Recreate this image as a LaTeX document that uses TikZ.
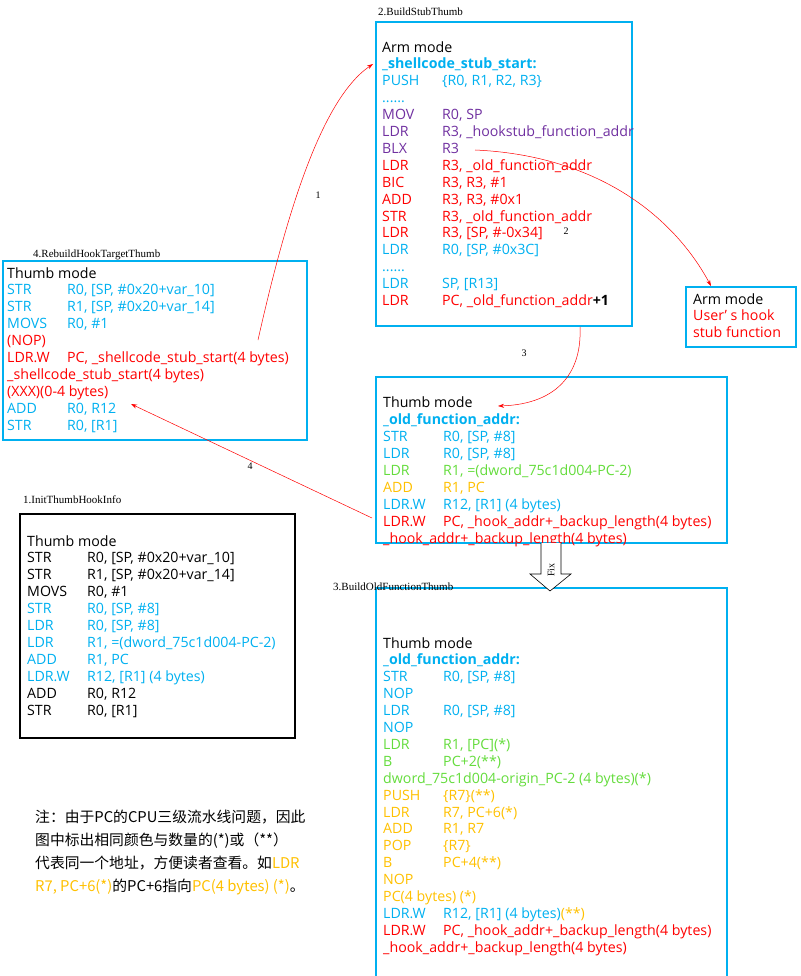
\documentclass[tikz,border=0pt]{standalone}
\usepackage{fontspec}
\setmainfont{Open Sans}
\newfontfamily\cjk{Noto Sans CJK SC}
\newfontfamily\lab{Liberation Serif}
\usetikzlibrary{arrows.meta}
\definecolor{cy}{RGB}{0,176,240}
\definecolor{pu}{RGB}{112,48,160}
\definecolor{rd}{RGB}{255,0,0}
\definecolor{gr}{RGB}{100,220,60}
\definecolor{og}{RGB}{255,192,0}
\newcommand\ci[2]{\makebox[60pt][l]{#1}#2}
\begin{document}
\begin{tikzpicture}[x=1pt,y=-1pt,
  bx/.style={draw=cy,line width=2.5pt},
  bk/.style={draw=black,line width=2pt},
  code/.style={anchor=base west,inner sep=0pt,align=left,font=\fontsize{14.2}{16.9}\selectfont},
  lbl/.style={anchor=base west,inner sep=0pt,font=\lab\fontsize{11}{12}\selectfont},
  num/.style={inner sep=1pt,font=\lab\fontsize{10}{11}\selectfont},
  ra/.style={draw=rd,line width=0.5pt,-{Stealth[length=6pt,width=4pt]}}]
\useasboundingbox (0,0) rectangle (800,976);
% boxes
\draw[bx] (376,22) rectangle (632,326);
\draw[bx] (686,287) rectangle (796,347);
\draw[bx] (3,261) rectangle (307,440);
\draw[bk] (20,514) rectangle (295,738);
\draw[bx] (376,377) rectangle (727,543);
\draw[bx] (376,588) rectangle (727,978);
% labels
\node[lbl] (l2) at (378,16) {2.BuildStubThumb};
\node[lbl] (l4) at (33,257) {4.RebuildHookTargetThumb};
\node[lbl] (l1) at (23,503) {1.InitThumbHookInfo};
\node[lbl] (l3) at (333,590) {3.BuildOldFunctionThumb};
% top box (anchor = last baseline)
\node[code] (stub) at (382,305.5) {Arm mode\\
\textcolor{cy}{\textbf{\_shellcode\_stub\_start:}}\\
\textcolor{cy}{\ci{PUSH}{\{R0, R1, R2, R3\}}}\\
\textcolor{cy}{......}\\
\textcolor{pu}{\ci{MOV}{R0, SP}}\\
\textcolor{pu}{\ci{LDR}{R3, \_hookstub\_function\_addr}}\\
\textcolor{pu}{\ci{BLX}{R3}}\\
\textcolor{rd}{\ci{LDR}{R3, \_old\_function\_addr}}\\
\textcolor{rd}{\ci{BIC}{R3, R3, \#1}}\\
\textcolor{rd}{\ci{ADD}{R3, R3, \#0x1}}\\
\textcolor{rd}{\ci{STR}{R3, \_old\_function\_addr}}\\
\textcolor{rd}{\ci{LDR}{R3, [SP, \#-0x34]}}\\
\textcolor{cy}{\ci{LDR}{R0, [SP, \#0x3C]}}\\
\textcolor{cy}{......}\\
\textcolor{cy}{\ci{LDR}{SP, [R13]}}\\
\textcolor{rd}{\ci{LDR}{PC, \_old\_function\_addr}}\textbf{+1}};
% hook box
\node[code] (hook) at (693,337.8) {Arm mode\\ \textcolor{rd}{User’ s hook}\\ \textcolor{rd}{stub function}};
% box 4
\node[code] (reb) at (7,430.1) {Thumb mode\\
\textcolor{cy}{\ci{STR}{R0, [SP, \#0x20+var\_10]}}\\
\textcolor{cy}{\ci{STR}{R1, [SP, \#0x20+var\_14]}}\\
\textcolor{cy}{\ci{MOVS}{R0, \#1}}\\
\textcolor{rd}{(NOP)}\\
\textcolor{rd}{\ci{LDR.W}{PC, \_shellcode\_stub\_start(4 bytes)}}\\
\textcolor{rd}{\_shellcode\_stub\_start(4 bytes)}\\
\textcolor{rd}{(XXX)(0-4 bytes)}\\
\textcolor{cy}{\ci{ADD}{R0, R12}}\\
\textcolor{cy}{\ci{STR}{R0, [R1]}}};
% box 1
\node[code] (init) at (27,715) {Thumb mode\\
\ci{STR}{R0, [SP, \#0x20+var\_10]}\\
\ci{STR}{R1, [SP, \#0x20+var\_14]}\\
\ci{MOVS}{R0, \#1}\\
\textcolor{cy}{\ci{STR}{R0, [SP, \#8]}}\\
\textcolor{cy}{\ci{LDR}{R0, [SP, \#8]}}\\
\textcolor{cy}{\ci{LDR}{R1, =(dword\_75c1d004-PC-2)}}\\
\textcolor{cy}{\ci{ADD}{R1, PC}}\\
\textcolor{cy}{\ci{LDR.W}{R12, [R1] (4 bytes)}}\\
\ci{ADD}{R0, R12}\\
\ci{STR}{R0, [R1]}};
% box 3a
\node[code] (old) at (383,543) {Thumb mode\\
\textcolor{cy}{\textbf{\_old\_function\_addr:}}\\
\textcolor{cy}{\ci{STR}{R0, [SP, \#8]}}\\
\textcolor{cy}{\ci{LDR}{R0, [SP, \#8]}}\\
\textcolor{gr}{\ci{LDR}{R1, =(dword\_75c1d004-PC-2)}}\\
\textcolor{og}{\ci{ADD}{R1, PC}}\\
\textcolor{cy}{\ci{LDR.W}{R12, [R1] (4 bytes)}}\\
\textcolor{rd}{\ci{LDR.W}{PC, \_hook\_addr+\_backup\_length(4 bytes)}}\\
\textcolor{rd}{\_hook\_addr+\_backup\_length(4 bytes)}};
% box 3b
\node[code] (fix) at (383,952.2) {Thumb mode\\
\textcolor{cy}{\textbf{\_old\_function\_addr:}}\\
\textcolor{cy}{\ci{STR}{R0, [SP, \#8]}}\\
\textcolor{cy}{NOP}\\
\textcolor{cy}{\ci{LDR}{R0, [SP, \#8]}}\\
\textcolor{cy}{NOP}\\
\textcolor{gr}{\ci{LDR}{R1, [PC](*)}}\\
\textcolor{gr}{\ci{B}{PC+2(**)}}\\
\textcolor{gr}{dword\_75c1d004-origin\_PC-2 (4 bytes)(*)}\\
\textcolor{og}{\ci{PUSH}{\{R7\}(**)}}\\
\textcolor{og}{\ci{LDR}{R7, PC+6(*)}}\\
\textcolor{og}{\ci{ADD}{R1, R7}}\\
\textcolor{og}{\ci{POP}{\{R7\}}}\\
\textcolor{og}{\ci{B}{PC+4(**)}}\\
\textcolor{og}{NOP}\\
\textcolor{og}{PC(4 bytes) (*)}\\
\textcolor{cy}{\ci{LDR.W}{R12, [R1] (4 bytes)}}\textcolor{og}{(**)}\\
\textcolor{rd}{\ci{LDR.W}{PC, \_hook\_addr+\_backup\_length(4 bytes)}}\\
\textcolor{rd}{\_hook\_addr+\_backup\_length(4 bytes)}};
% note
\node[anchor=base west,inner sep=0pt,align=left,font=\cjk\fontsize{14.8}{23}\selectfont] (note) at (35,891)
{注：由于PC的CPU三级流水线问题，因此\\
图中标出相同颜色与数量的(*)或（**）\\
代表同一个地址，方便读者查看。如\textcolor{og}{LDR}\\
\textcolor{og}{R7, PC+6(*)}的PC+6指向\textcolor{og}{PC(4 bytes) (*)}。};
% Fix arrow
\draw[line width=0.6pt,fill=white] (541,543) -- (541,574) -- (530,574) -- (550,591) -- (571,574) -- (561,574) -- (561,543);
\node[rotate=90,font=\lab\fontsize{10}{11}\selectfont,inner sep=0pt] (fixl) at (551,570) {Fix};
% connectors
\coordinate (a1s) at (258,340); \coordinate (a1e) at (373,64);
\coordinate (a2s) at (475,150); \coordinate (a2e) at (711,286);
\coordinate (a3s) at (580,327); \coordinate (a3e) at (498,406);
\coordinate (a4s) at (372,518); \coordinate (a4e) at (131,404);
\draw[ra] (a1s) .. controls (285,220) and (320,100) .. (a1e);
\draw[ra] (a2s) .. controls (590,155) and (670,210) .. (a2e);
\draw[ra] (a3s) .. controls (582,370) and (560,404) .. (a3e);
\draw[ra] (a4s) -- (a4e);
\node[num] (n1) at (318,195) {1};
\node[num] (n2) at (566,231) {2};
\node[num] (n3) at (524,353) {3};
\node[num] (n4) at (250,466) {4};
\end{tikzpicture}
\end{document}
